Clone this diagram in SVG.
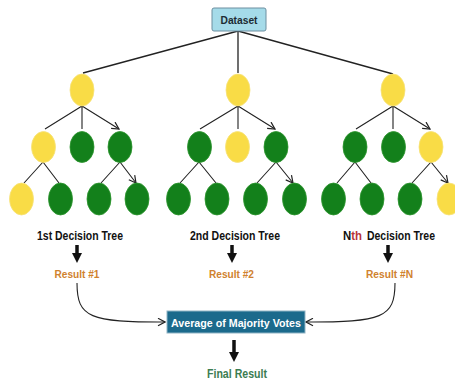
<svg xmlns="http://www.w3.org/2000/svg" width="455" height="382" viewBox="0 0 455 382">
<defs>
<marker id="v" viewBox="0 0 9 9" refX="8" refY="4.5" markerWidth="9" markerHeight="9" markerUnits="userSpaceOnUse" orient="auto">
<path d="M1,0.8 L8,4.5 L1,8.2" fill="none" stroke="#222" stroke-width="1.2"/>
</marker>
<marker id="big" viewBox="0 0 10 10" refX="2" refY="5" markerWidth="10" markerHeight="10" markerUnits="userSpaceOnUse" orient="auto">
<path d="M0,0 L10,5 L0,10 Z" fill="#111"/>
</marker>
</defs>
<style>
.y{fill:#f9dc46;stroke:#f6e27a;stroke-width:0.8}
.g{fill:#13801b;stroke:#2d962f;stroke-width:0.8}
.e{stroke:#222;stroke-width:1.3;fill:none}
.a{stroke:#222;stroke-width:1.1;fill:none;marker-end:url(#v)}
.t{stroke:#111;stroke-width:3.5;marker-end:url(#big)}
.lab{font-family:"Liberation Sans",Arial,sans-serif;font-weight:bold;font-size:12.5px;fill:#111;text-anchor:middle}
.res{font-family:"Liberation Sans",Arial,sans-serif;font-weight:bold;font-size:11.5px;fill:#d0822e;text-anchor:middle}
</style>
<rect width="455" height="382" fill="#fff"/>
<g id="connectors">
<path class="e" d="M238,31 L83,73 M238,31 L238,73 M238,31 L393,74"/>
<path class="a" d="M82,106 L45,129 M82,106 L82,129 M82,106 L119,129"/>
<path class="a" d="M43,162 L24,183 M43,162 L59,183 M120,162 L101,183 M120,162 L136,183"/>
<path class="a" d="M238,106 L200,129 M238,106 L238,129 M238,106 L275,129"/>
<path class="a" d="M199,162 L180,183 M199,162 L216,183 M276,162 L257,183 M276,162 L293,183"/>
<path class="a" d="M393,106 L356,129 M393,106 L393,129 M393,106 L430,129"/>
<path class="a" d="M355,162 L337,183 M355,162 L371,183 M431,162 L412,183 M431,162 L448,183"/>
<line class="t" x1="77" y1="245" x2="77" y2="255"/>
<line class="t" x1="232" y1="245" x2="232" y2="255"/>
<line class="t" x1="388" y1="245" x2="388" y2="255"/>
<path class="a" d="M77,283 C77,318 90,322 165,322"/>
<path class="a" d="M395,283 C395,318 382,322 306,322"/>
<line class="t" x1="234" y1="340" x2="234" y2="354"/>
</g>
<g id="dataset">
<rect x="212" y="8" width="54" height="23" rx="2" fill="#a5dbe9" stroke="#6d8fa0" stroke-width="1"/>
<text x="239" y="24" class="lab" font-size="11" textLength="37" lengthAdjust="spacingAndGlyphs" style="fill:#1d2b33;font-size:11px">Dataset</text>
</g>
<g id="tree1">
<ellipse class="y" cx="82" cy="90" rx="12" ry="16"/>
<ellipse class="y" cx="43.5" cy="147" rx="12" ry="15.5"/>
<ellipse class="g" cx="82" cy="147" rx="12" ry="15.5"/>
<ellipse class="g" cx="120" cy="147" rx="12" ry="15.5"/>
<ellipse class="y" cx="21.5" cy="199" rx="12" ry="16"/>
<ellipse class="g" cx="60.5" cy="199" rx="12" ry="16"/>
<ellipse class="g" cx="99" cy="199" rx="12" ry="16"/>
<ellipse class="g" cx="137" cy="199" rx="12" ry="16"/>
<text x="80" y="240" class="lab" textLength="86" lengthAdjust="spacingAndGlyphs">1st Decision Tree</text>
</g>
<g id="tree2">
<ellipse class="y" cx="238" cy="90" rx="12" ry="16"/>
<ellipse class="g" cx="199.5" cy="147" rx="12" ry="15.5"/>
<ellipse class="y" cx="237.5" cy="147" rx="12" ry="15.5"/>
<ellipse class="g" cx="276" cy="147" rx="12" ry="15.5"/>
<ellipse class="g" cx="178.5" cy="199" rx="12" ry="16"/>
<ellipse class="g" cx="217" cy="199" rx="12" ry="16"/>
<ellipse class="g" cx="255.5" cy="199" rx="12" ry="16"/>
<ellipse class="g" cx="294.5" cy="199" rx="12" ry="16"/>
<text x="235" y="240" class="lab" textLength="90" lengthAdjust="spacingAndGlyphs">2nd Decision Tree</text>
</g>
<g id="treeN">
<ellipse class="y" cx="393" cy="90" rx="12" ry="16"/>
<ellipse class="g" cx="355" cy="147" rx="12" ry="15.5"/>
<ellipse class="g" cx="393.5" cy="147" rx="12" ry="15.5"/>
<ellipse class="y" cx="431" cy="147" rx="12" ry="15.5"/>
<ellipse class="g" cx="333.5" cy="199" rx="12" ry="16"/>
<ellipse class="g" cx="372" cy="199" rx="12" ry="16"/>
<ellipse class="g" cx="410" cy="199" rx="12" ry="16"/>
<ellipse class="y" cx="449" cy="199" rx="12" ry="16"/>
<text x="343" y="240" class="lab" style="text-anchor:start" textLength="19" lengthAdjust="spacingAndGlyphs">N<tspan style="fill:#b8343a">th</tspan></text>
<text x="367" y="240" class="lab" style="text-anchor:start" textLength="68" lengthAdjust="spacingAndGlyphs">Decision Tree</text>
</g>
<g id="result1"><text x="77" y="277.5" class="res" textLength="45" lengthAdjust="spacingAndGlyphs">Result #1</text></g>
<g id="result2"><text x="231.5" y="277.5" class="res" textLength="45" lengthAdjust="spacingAndGlyphs">Result #2</text></g>
<g id="resultN"><text x="389.5" y="277.5" class="res" textLength="47" lengthAdjust="spacingAndGlyphs">Result #N</text></g>
<g id="average">
<rect x="167" y="311" width="138" height="22" fill="#1b6a8c" stroke="#8fb3c4" stroke-width="1"/>
<text x="236" y="326.5" class="lab" textLength="130" lengthAdjust="spacingAndGlyphs" style="fill:#fff;font-size:11.5px">Average of Majority Votes</text>
</g>
<g id="final">
<text x="237" y="378" class="lab" textLength="60" lengthAdjust="spacingAndGlyphs" style="fill:#3c7d52">Final Result</text>
</g>
</svg>
